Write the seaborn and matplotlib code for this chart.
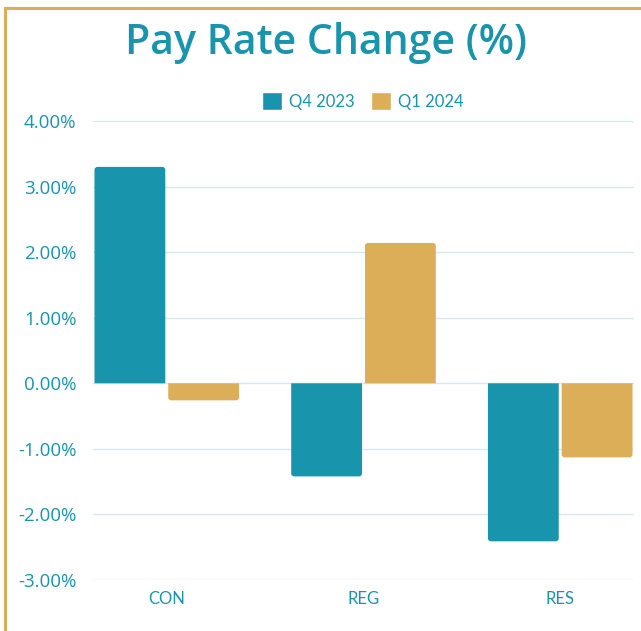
import pandas as pd
import numpy as np
import matplotlib
matplotlib.use("Agg")
import matplotlib.pyplot as plt
from matplotlib.patches import Rectangle, Patch, PathPatch
from matplotlib.path import Path
from matplotlib.ticker import FuncFormatter
import seaborn as sns

# data
categories = ["CON", "REG", "RES"]
q4_2023 = [3.30, -1.42, -2.41]
q1_2024 = [-0.26, 2.14, -1.13]
series_names = ["Q4 2023", "Q1 2024"]
y_ticks = [-3, -2, -1, 0, 1, 2, 3, 4]

teal = "#1994AD"
gold = "#DCAE58"
grid_col = "#D6E9EF"

df = pd.DataFrame({
    "category": categories * 2,
    "series": [series_names[0]] * 3 + [series_names[1]] * 3,
    "value": q4_2023 + q1_2024,
})

sns.set_style("white")
plt.rcParams["font.family"] = ["Open Sans", "DejaVu Sans"]

fig = plt.figure(figsize=(6.41, 6.31), dpi=100)
ax = fig.add_axes([93 / 641, 51 / 631, 541 / 641, 459 / 631])

sns.barplot(data=df, x="category", y="value", hue="series",
            palette=[teal, gold], width=0.75, gap=0.04, ax=ax,
            legend=False, saturation=1, errorbar=None)

ax.set_xlim(-0.375, 2.375)
ax.set_ylim(-3.0, 4.0)

# replace each bar by a path with rounded corners at the far end only
rx = 3 * 2.75 / 541
ry = 3 * 7.0 / 459
for bar in list(ax.patches):
    x, y = bar.get_x(), bar.get_y()
    w, h = bar.get_width(), bar.get_height()
    col = bar.get_facecolor()
    bar.set_visible(False)
    tip = y + h
    s = 1 if h >= 0 else -1
    verts = [(x, y), (x, tip - s * ry), (x, tip), (x + rx, tip),
             (x + w - rx, tip), (x + w, tip), (x + w, tip - s * ry),
             (x + w, y), (x, y)]
    codes = [Path.MOVETO, Path.LINETO, Path.CURVE3, Path.CURVE3,
             Path.LINETO, Path.CURVE3, Path.CURVE3, Path.LINETO,
             Path.CLOSEPOLY]
    ax.add_patch(PathPatch(Path(verts, codes), facecolor=col,
                           edgecolor="none", zorder=2))

ax.set_yticks(y_ticks)
ax.yaxis.set_major_formatter(FuncFormatter(lambda v, p: f"{v:.2f}%"))
ax.grid(axis="y", color=grid_col, linewidth=1)
ax.set_axisbelow(True)
for s in ax.spines.values():
    s.set_visible(False)
ax.tick_params(axis="both", length=0, colors=teal)
ax.tick_params(axis="y", pad=12, labelsize=13.5)
ax.tick_params(axis="x", pad=8)
for lab in ax.get_xticklabels():
    lab.set_family(["Lato", "DejaVu Sans"])
    lab.set_fontsize(12)
ax.set_xlabel("")
ax.set_ylabel("")

# gold frame (clipped at right/bottom like the reference)
fig.patches.append(Rectangle((5 / 641, -0.1), 1.2, 1.1 - 8 / 631,
                             transform=fig.transFigure, fill=False,
                             edgecolor=gold, linewidth=2.2))

fig.text(326 / 641, 1 - 43 / 631, "Pay Rate Change (%)", ha="center",
         va="center", color=teal, fontsize=29.5, fontweight="semibold",
         family=["Open Sans", "DejaVu Sans"])

handles = [Patch(facecolor=teal), Patch(facecolor=gold)]
fig.legend(handles, series_names, loc="center", ncol=2,
           bbox_to_anchor=(363 / 641, 1 - 101 / 631), frameon=False,
           prop={"family": ["Lato", "DejaVu Sans"], "size": 12},
           labelcolor=teal, handlelength=1.2, handleheight=1.35,
           handletextpad=0.4, columnspacing=1.0)

fig.savefig("out.png", dpi=100)
